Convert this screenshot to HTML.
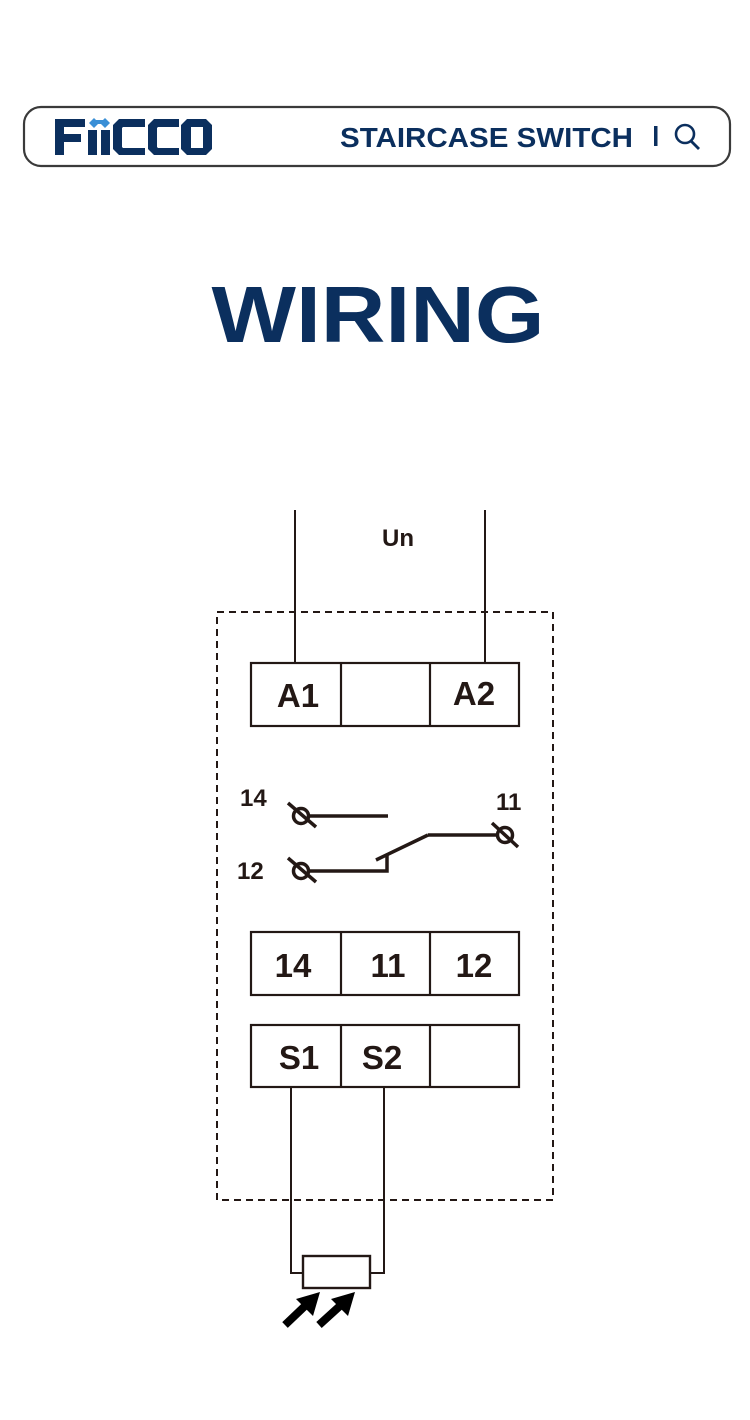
<!DOCTYPE html>
<html><head><meta charset="utf-8"><style>
html,body{margin:0;padding:0;background:#fff;}
svg{display:block}
</style></head><body>
<svg width="750" height="1420" viewBox="0 0 750 1420" xmlns="http://www.w3.org/2000/svg">
<rect x="24" y="107" width="706" height="59" rx="17" fill="#fff" stroke="#3a3a3a" stroke-width="2.2"/>
<g fill="#0b2f5e">
<path d="M55 119h30v8h-21v7h17v8h-17v13h-9z"/>
<rect x="88" y="130" width="9" height="25"/>
<rect x="101" y="130" width="9" height="25"/>
<path d="M119 119h26v8h-22l-1 1v19l1 1h22v7h-26l-6-6v-24z"/>
<path d="M154 119h25v8h-21l-1 1v19l1 1h21v7h-25l-6-6v-24z"/>
<path d="M187 119h19l6 6v24l-6 6h-19l-6-6v-24zM191 127v21h12v-21z" fill-rule="evenodd"/>
</g>
<g fill="#3a8fd6">
<path d="M89 123l5-5 5 5-5 5z"/><path d="M100 123l5-5 5 5-5 5z"/><rect x="94" y="120" width="11" height="4"/>
</g>
<text x="340" y="147" font-family="Liberation Sans, sans-serif" font-weight="bold" font-size="28" fill="#0b2f5e" textLength="293" lengthAdjust="spacingAndGlyphs">STAIRCASE SWITCH</text>
<rect x="654" y="126" width="3.5" height="20" fill="#0b2f5e"/>
<circle cx="685" cy="134" r="9" fill="none" stroke="#0b2f5e" stroke-width="2.6"/>
<line x1="691" y1="141" x2="699" y2="149" stroke="#0b2f5e" stroke-width="2.8"/>
<text x="378" y="342" text-anchor="middle" font-family="Liberation Sans, sans-serif" font-weight="bold" font-size="80" fill="#0b2f5e" textLength="333" lengthAdjust="spacingAndGlyphs">WIRING</text>

<g stroke="#231815" fill="none">
<rect x="217" y="612" width="336" height="588" stroke-width="2" stroke-dasharray="7,5"/>
<line x1="295" y1="510" x2="295" y2="663" stroke-width="2"/>
<line x1="485" y1="510" x2="485" y2="663" stroke-width="2"/>
<g stroke-width="2.2">
<rect x="251" y="663" width="268" height="63"/><line x1="341" y1="663" x2="341" y2="726"/><line x1="430" y1="663" x2="430" y2="726"/>
<rect x="251" y="932" width="268" height="63"/><line x1="341" y1="932" x2="341" y2="995"/><line x1="430" y1="932" x2="430" y2="995"/>
<rect x="251" y="1025" width="268" height="62"/><line x1="341" y1="1025" x2="341" y2="1087"/><line x1="430" y1="1025" x2="430" y2="1087"/>
</g>
<g stroke-width="3.5">
<circle cx="301" cy="816" r="7.5"/><line x1="288" y1="803" x2="316" y2="827"/>
<line x1="308" y1="816" x2="388" y2="816"/>
<circle cx="505" cy="835" r="7.5"/><line x1="492" y1="823" x2="518" y2="847"/>
<line x1="428" y1="835" x2="498" y2="835"/>
<line x1="428" y1="835" x2="376" y2="860"/>
<polyline points="387,854 387,871 308,871"/>
<circle cx="301" cy="871" r="7.5"/><line x1="288" y1="858" x2="316" y2="882"/>
</g>
<g stroke-width="2">
<polyline points="291,1087 291,1273 303,1273"/>
<polyline points="384,1087 384,1273 370,1273"/>
<rect x="303" y="1256" width="67" height="32" stroke-width="2.4"/>
</g>
</g>
<g fill="#000" stroke="#000">
<line x1="285" y1="1325" x2="306" y2="1305" stroke-width="8"/>
<polygon points="320,1292 296,1299 313,1316" stroke="none"/>
<line x1="319" y1="1325" x2="341" y2="1305" stroke-width="8"/>
<polygon points="355,1292 331,1299 348,1316" stroke="none"/>
</g>
<g font-family="Liberation Sans, sans-serif" font-weight="bold" fill="#231815">
<text x="382" y="546" font-size="24">Un</text>
<g font-size="33" text-anchor="middle">
<text x="298" y="707">A1</text><text x="474" y="705">A2</text>
<text x="293" y="977">14</text><text x="388" y="977">11</text><text x="474" y="977">12</text>
<text x="299" y="1069">S1</text><text x="382" y="1069">S2</text>
</g>
<g font-size="24">
<text x="240" y="806">14</text><text x="496" y="810">11</text><text x="237" y="879">12</text>
</g>
</g>
</svg>
</body></html>
